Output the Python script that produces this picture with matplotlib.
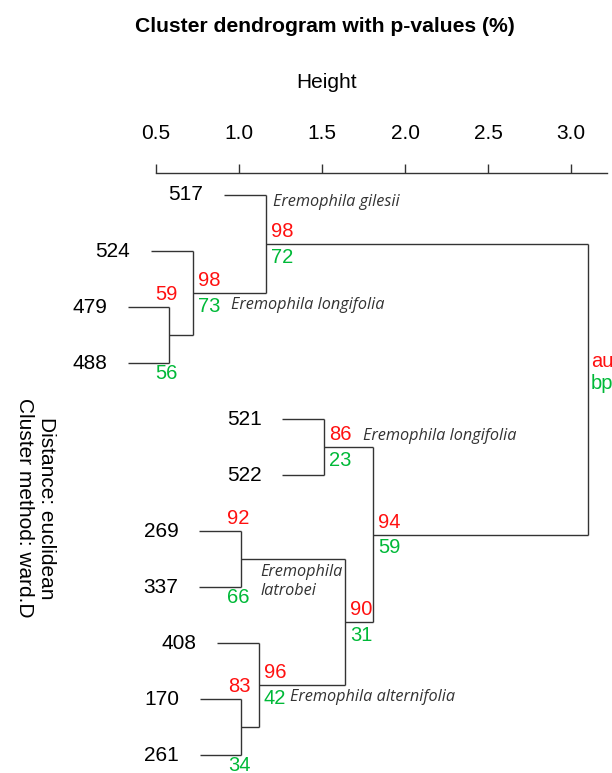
import matplotlib.pyplot as plt

plt.rcParams['font.family'] = ['Liberation Sans', 'DejaVu Sans']

# leaves, top to bottom
leaves = ['517', '524', '479', '488', '521', '522', '269', '337', '408', '170', '261']

# merges: name, left child, right child, height
node_names = ['A', 'B', 'C', 'D', 'E', 'F', 'G', 'H', 'I', 'root']
node_left = ['479', '524', '517', '521', '269', '170', '408', 'E', 'D', 'C']
node_right = ['488', 'A', 'B', '522', '337', '261', 'F', 'G', 'H', 'I']
node_height = [0.58, 0.72, 1.16, 1.51, 1.01, 1.015, 1.12, 1.64, 1.81, 3.10]

# p-values (%) per node (root has none)
au_values = [59, 98, 98, 86, 92, 83, 96, 90, 94]
bp_values = [56, 73, 72, 23, 66, 34, 42, 31, 59]
# where the numbers sit: beside the node or at the ends of its vertical bar
label_place = ['ends', 'side', 'side', 'side', 'ends', 'ends', 'side', 'side', 'side']

# species annotations: text, height, leaf row
species = [
    ('Eremophila gilesii', 1.205, 0.12),
    ('Eremophila longifolia', 0.95, 1.96),
    ('Eremophila longifolia', 1.745, 4.31),
    ('Eremophila\nlatrobei', 1.13, 6.9),
    ('Eremophila alternifolia', 1.31, 8.96),
]

hang = 0.25
line_color = '#333333'
red = '#ff1010'
green = '#00b938'

fig = plt.figure(figsize=(6.12, 7.73), dpi=100)
ax = fig.add_axes([156 / 612, 0, (606.7 - 156) / 612, (773 - 172.7) / 773])
ax.set_xlim(0.5, 3.215)
ax.set_ylim(10.32, -0.398)

# positions
ypos = {name: i for i, name in enumerate(leaves)}
xpos = {}
parent_height = {}
for name, l, r, h in zip(node_names, node_left, node_right, node_height):
    parent_height[l] = h
    parent_height[r] = h
for name in leaves:
    xpos[name] = parent_height[name] - hang

for name, l, r, h in zip(node_names, node_left, node_right, node_height):
    ypos[name] = (ypos[l] + ypos[r]) / 2
    xpos[name] = h
    kw = dict(color=line_color, lw=1.0, clip_on=False, solid_capstyle='butt')
    ax.plot([h, h], [ypos[l], ypos[r]], **kw)
    for c in (l, r):
        ax.plot([xpos[c], h], [ypos[c], ypos[c]], **kw)

# leaf labels
for name in leaves:
    ax.text(xpos[name] - 0.125, ypos[name], name, ha='right', va='center',
            fontsize=15, clip_on=False)

# au / bp numbers
for i, (au, bp, place) in enumerate(zip(au_values, bp_values, label_place)):
    name = node_names[i]
    h = node_height[i]
    if place == 'side':
        ax.text(h + 0.03, ypos[name] - 0.22, str(au), color=red, fontsize=14.5,
                ha='left', va='center')
        ax.text(h + 0.03, ypos[name] + 0.24, str(bp), color=green, fontsize=14.5,
                ha='left', va='center')
    else:
        top = min(ypos[node_left[i]], ypos[node_right[i]])
        bottom = max(ypos[node_left[i]], ypos[node_right[i]])
        ax.text(h - 0.015, top - 0.22, str(au), color=red, fontsize=14.5,
                ha='center', va='center')
        ax.text(h - 0.015, bottom + 0.19, str(bp), color=green, fontsize=14.5,
                ha='center', va='center', clip_on=False)

# au / bp key next to the root
ax.text(node_height[-1] + 0.02, ypos['root'] - 0.49, 'au', color=red, fontsize=14.5,
        ha='left', va='center', clip_on=False)
ax.text(node_height[-1] + 0.02, ypos['root'] - 0.1, 'bp', color=green, fontsize=14.5,
        ha='left', va='center', clip_on=False)

# species names
for text, h, row in species:
    ax.text(h, row, text, fontsize=11.7, style='italic', color='#333333',
            family=['Open Sans', 'DejaVu Sans'], ha='left', va='center',
            linespacing=1.2)

# top axis
for s in ['left', 'right', 'bottom']:
    ax.spines[s].set_visible(False)
ax.spines['top'].set_color(line_color)
ax.spines['top'].set_linewidth(1.0)
ax.xaxis.tick_top()
ax.set_xticks([0.5, 1.0, 1.5, 2.0, 2.5, 3.0])
ax.set_xticklabels(['0.5', '1.0', '1.5', '2.0', '2.5', '3.0'])
ax.tick_params(axis='x', direction='out', length=6.5, width=1.0, color=line_color,
               labelsize=15, pad=15)
ax.set_yticks([])
ax.patch.set_visible(False)

fig.text(326.7 / 612, 1 - 83 / 773, 'Height', fontsize=15, ha='center', va='center')
fig.text(325 / 612, 1 - 27 / 773, 'Cluster dendrogram with p-values (%)',
         fontsize=15.2, fontweight='bold', ha='center', va='center')
fig.text(35 / 612, 1 - 508 / 773, 'Distance: euclidean\nCluster method: ward.D',
         fontsize=15, rotation=270, ha='center', va='center', linespacing=1.2)

fig.savefig('out.png', dpi=100)
